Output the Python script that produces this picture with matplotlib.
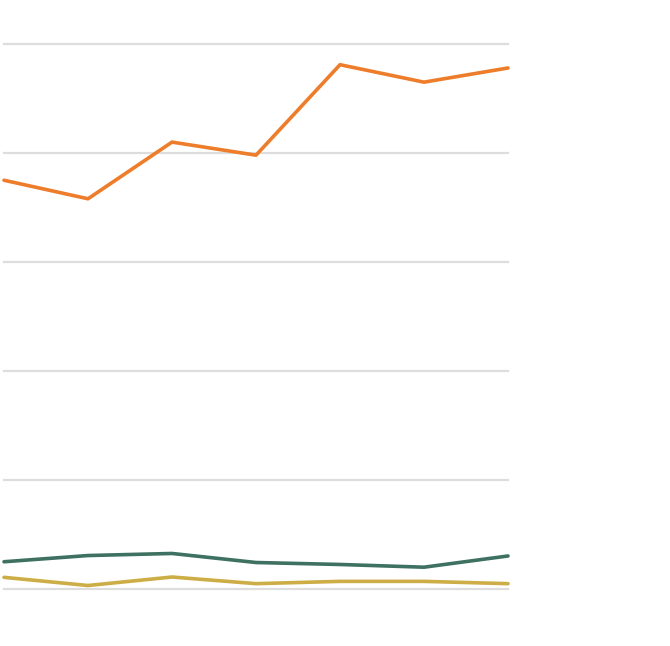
import matplotlib
matplotlib.use('Agg')
import matplotlib.pyplot as plt

# ------------- Datos -------------
periods = [0, 1, 2, 3, 4, 5, 6]
orange_vals = [37.5, 35.8, 41.0, 39.8, 48.1, 46.5, 47.8]
green_vals = [2.5, 3.07, 3.26, 2.43, 2.25, 2.0, 3.03]
yellow_vals = [1.07, 0.32, 1.1, 0.49, 0.7, 0.7, 0.49]
grid_levels = [0, 10, 20, 30, 40, 50]

W, H = 670, 646
fig = plt.figure(figsize=(W/100, H/100), dpi=100)
# ejes colocados a mano para que coincidan las lineas de la rejilla
ax = fig.add_axes([4/W, (H-589)/H, (508-4)/W, (589-44)/H])
ax.set_xlim(periods[0], periods[-1])
ax.set_ylim(grid_levels[0], grid_levels[-1])

for g in grid_levels:
    ax.axhline(g, color='#dddddd', lw=1.6, zorder=0, clip_on=False)

ax.plot(periods, orange_vals, color='#EE7D2B', lw=2.6, solid_capstyle='round', clip_on=False)
ax.plot(periods, green_vals, color='#3E7161', lw=2.6, solid_capstyle='round', clip_on=False)
ax.plot(periods, yellow_vals, color='#CDAD45', lw=2.6, solid_capstyle='round', clip_on=False)

ax.axis('off')
fig.savefig('out.png', dpi=100)
